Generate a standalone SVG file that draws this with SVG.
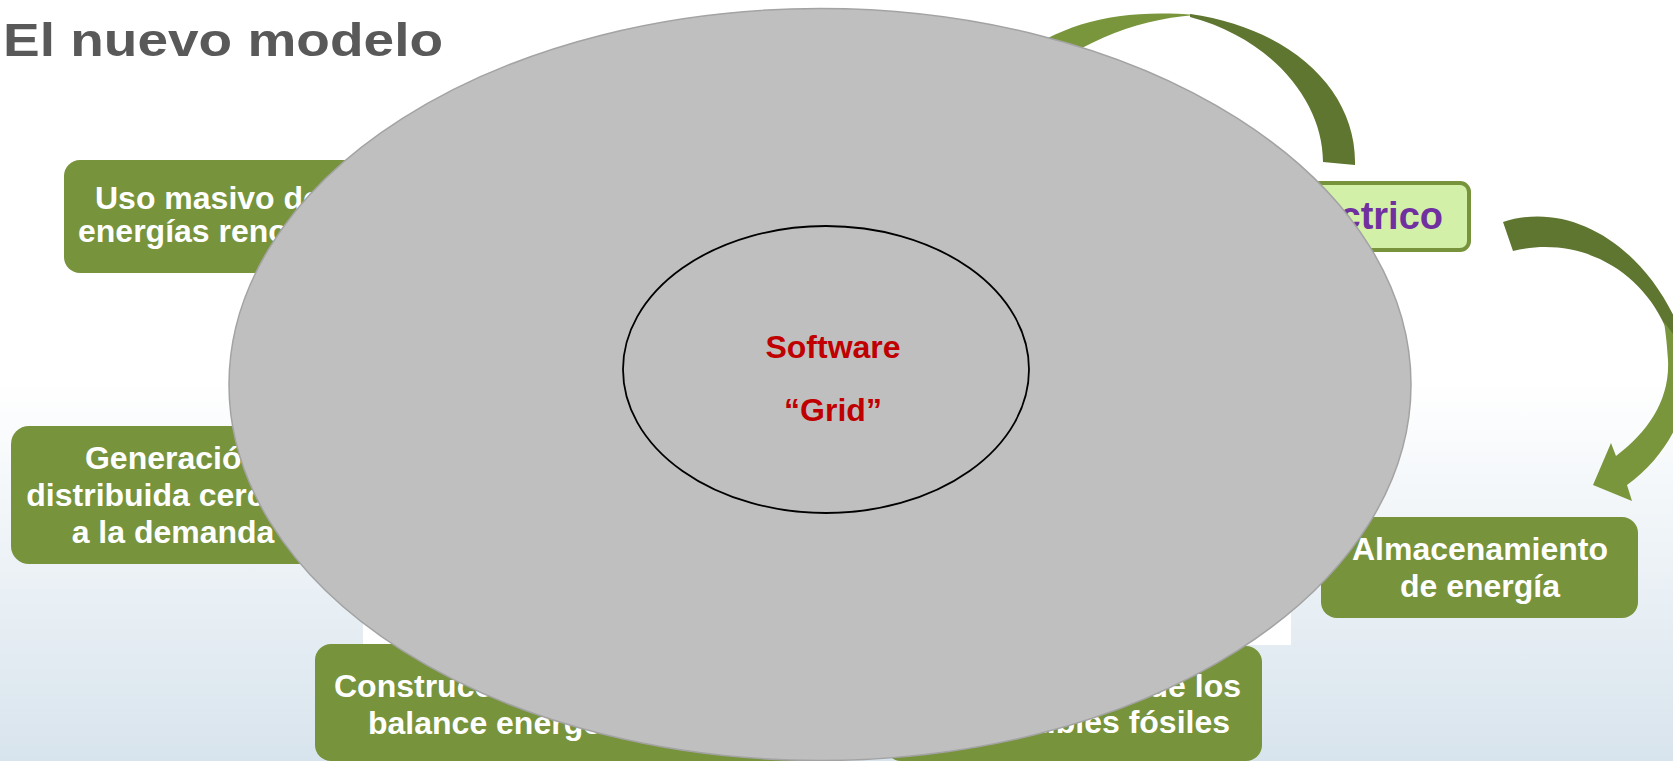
<svg xmlns="http://www.w3.org/2000/svg" width="1673" height="761" viewBox="0 0 1673 761">
<defs>
<linearGradient id="bg" gradientUnits="userSpaceOnUse" x1="0" y1="380" x2="0" y2="761">
<stop offset="0" stop-color="#ffffff"/>
<stop offset="1" stop-color="#d8e4ed"/>
</linearGradient>
<style>
.box{fill:#77933c}
.bt{font-family:"Liberation Sans",Arial,sans-serif;font-weight:bold;font-size:32px;fill:#ffffff}
.dark{fill:#5f7631}
.light{fill:#7a963c}
.red{font-family:"Liberation Sans",Arial,sans-serif;font-weight:bold;font-size:32px;fill:#c00000;text-anchor:middle}
</style>
</defs>
<rect x="0" y="0" width="1673" height="761" fill="url(#bg)"/>
<rect x="0" y="0" width="1673" height="380" fill="#ffffff"/>
<rect x="363" y="0" width="928" height="645" fill="#ffffff"/>
<text x="3" y="56" font-family="Liberation Sans, Arial, sans-serif" font-weight="bold" font-size="46" fill="#595959" textLength="440" lengthAdjust="spacingAndGlyphs">El nuevo modelo</text>

<g id="node-renovables">
<rect class="box" x="64" y="160" width="340" height="113" rx="16"/>
<text class="bt" x="95" y="209">Uso masivo de</text>
<text class="bt" x="78" y="242">energías renovables</text>
</g>
<g id="node-generacion">
<rect class="box" x="11" y="426" width="324" height="138" rx="18"/>
<text class="bt" x="173" y="469" text-anchor="middle">Generación</text>
<text class="bt" x="173" y="506" text-anchor="middle">distribuida cercana</text>
<text class="bt" x="173" y="543" text-anchor="middle">a la demanda</text>
</g>
<g id="node-almacenamiento">
<rect class="box" x="1321" y="517" width="317" height="101" rx="16"/>
<text class="bt" x="1480" y="560" text-anchor="middle">Almacenamiento</text>
<text class="bt" x="1480" y="597" text-anchor="middle">de energía</text>
</g>
<g id="node-construccion">
<rect class="box" x="315" y="644" width="497" height="117" rx="16"/>
<text class="bt" x="334" y="697">Construcción</text>
<text class="bt" x="368" y="734">balance energético</text>
</g>
<g id="node-fosiles">
<rect class="box" x="885" y="646" width="377" height="115" rx="16"/>
<text class="bt" x="1241" y="697" text-anchor="end">de los</text>
<text class="bt" x="1230" y="733" text-anchor="end">combustibles fósiles</text>
</g>
<g id="node-electrico">
<rect x="1000" y="183" width="469" height="67" rx="9" fill="#d3f0a9" stroke="#77933c" stroke-width="4"/>
<text x="1443" y="229" text-anchor="end" font-family="Liberation Sans, Arial, sans-serif" font-weight="bold" font-size="38" fill="#7030a0">eléctrico</text>
</g>

<g id="connectors">
<path class="light" d="M1000,72 C1050,26 1110,8 1195,15 C1130,20 1075,45 1020,90 Z"/>
<path class="dark" d="M1190,14 C1290,28 1357,90 1355,165 L1323,162 C1323,100 1270,38 1190,17 Z"/>
<path class="dark" d="M1503,222 C1570,200 1645,245 1680,330 L1684,352 L1665,326 C1640,270 1580,235 1513,251 Z"/>
<path class="light" d="M1664,322 L1685,350 L1685,390 C1685,420 1662,460 1627,485 L1632,501 L1593,485 L1611,443 L1616,456 C1648,432 1670,400 1668,360 C1667,345 1666,335 1664,322 Z"/>
</g>

<g id="node-grid">
<ellipse cx="820" cy="384.5" rx="591" ry="376" fill="#bfbfbf" stroke="#a3a3a3" stroke-width="1.5"/>
<ellipse cx="826" cy="369.5" rx="203" ry="143.5" fill="none" stroke="#000000" stroke-width="1.8"/>
<text class="red" x="833" y="358">Software</text>
<text class="red" x="833" y="421">“Grid”</text>
</g>
</svg>
